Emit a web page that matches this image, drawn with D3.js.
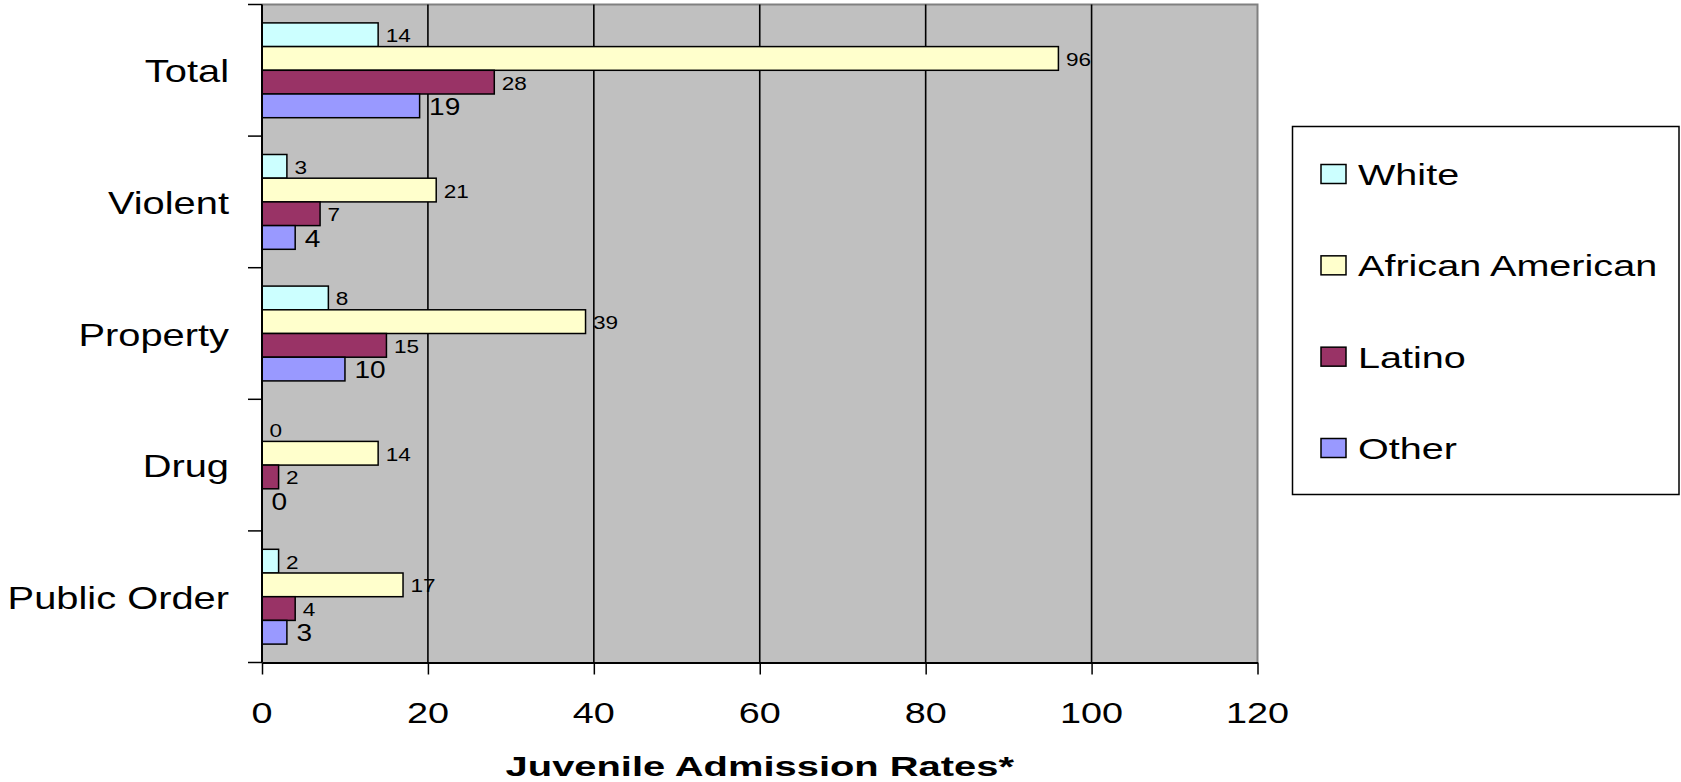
<!DOCTYPE html>
<html>
<head>
<meta charset="utf-8">
<script src="https://cdn.jsdelivr.net/npm/d3@7/dist/d3.min.js"></script>
<style>
  html, body { margin: 0; padding: 0; background: #ffffff; }
  svg { display: block; }
  text { font-family: "Liberation Sans", Arial, Helvetica, sans-serif; fill: #000; }
</style>
</head>
<body>
<script>
// Offense categories (top to bottom) and race/ethnicity series
const categories = ["Total", "Violent", "Property", "Drug", "Public Order"];
const seriesNames = ["White", "African American", "Latino", "Other"];
const seriesColors = ["#CCFFFF", "#FFFFCC", "#993366", "#9999FF"];

// Juvenile admission rates per series, in category order
const whiteValues    = [14, 3, 8, 0, 2];
const africanAmericanValues = [96, 21, 39, 14, 17];
const latinoValues   = [28, 7, 15, 2, 4];
const otherValues    = [19, 4, 10, 0, 3];
const seriesValues = [whiteValues, africanAmericanValues, latinoValues, otherValues];

const xTicks = [0, 20, 40, 60, 80, 100, 120];
const xTitle = "Juvenile Admission Rates*";

const W = 1681, H = 782;
const plot = { left: 262, right: 1257.5, top: 4.5, bottom: 662.5 };

const svg = d3.select("body").append("svg").attr("width", W).attr("height", H);

const x = d3.scaleLinear().domain([0, 120]).range([plot.left, plot.right]);
const y = d3.scaleBand().domain(categories).range([plot.top, plot.bottom]).padding(0);
const ySub = d3.scaleBand().domain(seriesNames).range([0, y.bandwidth()])
  .paddingInner(0).paddingOuter(0.776);

// Text drawn with a horizontal stretch, anchored at (px, py)
function stretchedText(g, px, py, str, size, sx, anchor, weight) {
  return g.append("text")
    .attr("transform", `translate(${px},${py}) scale(${sx},1)`)
    .attr("text-anchor", anchor || "start")
    .attr("font-size", size)
    .attr("font-weight", weight || "normal")
    .text(str);
}

// Plot area background
svg.append("rect")
  .attr("x", plot.left).attr("y", plot.top)
  .attr("width", plot.right - plot.left).attr("height", plot.bottom - plot.top)
  .attr("fill", "#C0C0C0");

// Top and right frame
svg.append("path")
  .attr("d", `M${plot.left},${plot.top}H${plot.right}V${plot.bottom}`)
  .attr("fill", "none").attr("stroke", "#808080").attr("stroke-width", 2);

// Vertical gridlines
svg.append("g").selectAll("line")
  .data(xTicks.filter(t => t > 0 && t < 120))
  .join("line")
  .attr("x1", d => x(d)).attr("x2", d => x(d))
  .attr("y1", plot.top).attr("y2", plot.bottom)
  .attr("stroke", "#000").attr("stroke-width", 1.6);

// Bars
const groups = svg.append("g").selectAll("g")
  .data(categories)
  .join("g")
  .attr("transform", d => `translate(0,${y(d)})`);

groups.each(function (cat, ci) {
  const g = d3.select(this);
  seriesNames.forEach((s, si) => {
    const v = seriesValues[si][ci];
    const y0 = ySub(s);
    const h = ySub.bandwidth();
    if (v > 0) {
      g.append("rect")
        .attr("x", x(0)).attr("y", y0)
        .attr("width", x(v) - x(0)).attr("height", h)
        .attr("fill", seriesColors[si])
        .attr("stroke", "#000").attr("stroke-width", 1.5);
    }
    const isOther = si === 3;
    const fs = isOther ? 23 : 18.5;
    const gap = isOther ? 9.5 : 7.5;
    stretchedText(g, x(v) + gap, y0 + h / 2 + 0.36 * fs + 0.8, String(v), fs, 1.22, "start");
  });
});

// Left axis line and category ticks
svg.append("line")
  .attr("x1", plot.left).attr("x2", plot.left)
  .attr("y1", plot.top).attr("y2", plot.bottom)
  .attr("stroke", "#000").attr("stroke-width", 2);

const bounds = categories.map(c => y(c)).concat([plot.bottom]);
svg.append("g").selectAll("line")
  .data(bounds)
  .join("line")
  .attr("x1", plot.left - 14).attr("x2", plot.left)
  .attr("y1", d => d).attr("y2", d => d)
  .attr("stroke", "#000").attr("stroke-width", 1.5);

// Category labels
const catG = svg.append("g");
categories.forEach(c => {
  stretchedText(catG, 229, y(c) + y.bandwidth() / 2 + 12, c, 32, 1.245, "end");
});

// Bottom axis
const xAxis = svg.append("g")
  .attr("transform", `translate(0,${plot.bottom})`)
  .call(d3.axisBottom(x).tickValues(xTicks).tickSize(12).tickSizeOuter(0).tickFormat(() => ""));
xAxis.select(".domain").attr("stroke", "#000").attr("stroke-width", 2);
xAxis.selectAll(".tick line").attr("stroke", "#000").attr("stroke-width", 1.5);

const tickG = svg.append("g");
xTicks.forEach(t => {
  stretchedText(tickG, x(t), 722.5, String(t), 30, 1.26, "middle");
});

// Axis title
stretchedText(svg, (plot.left + plot.right) / 2, 775.7, xTitle, 28.5, 1.4, "middle", "bold");

// Legend
const legend = svg.append("g");
legend.append("rect")
  .attr("x", 1292.5).attr("y", 126.5)
  .attr("width", 386.5).attr("height", 368)
  .attr("fill", "#fff").attr("stroke", "#000").attr("stroke-width", 1.5);

const legendRowCenter = d3.scalePoint().domain(seriesNames).range([174, 448]);
seriesNames.forEach((s, i) => {
  const cy = legendRowCenter(s);
  legend.append("rect")
    .attr("x", 1321).attr("y", cy - 9.5)
    .attr("width", 25).attr("height", 19)
    .attr("fill", seriesColors[i])
    .attr("stroke", "#000").attr("stroke-width", 1.5);
  stretchedText(legend, 1358, cy + 11, s, 30, 1.32, "start");
});
</script>
</body>
</html>
